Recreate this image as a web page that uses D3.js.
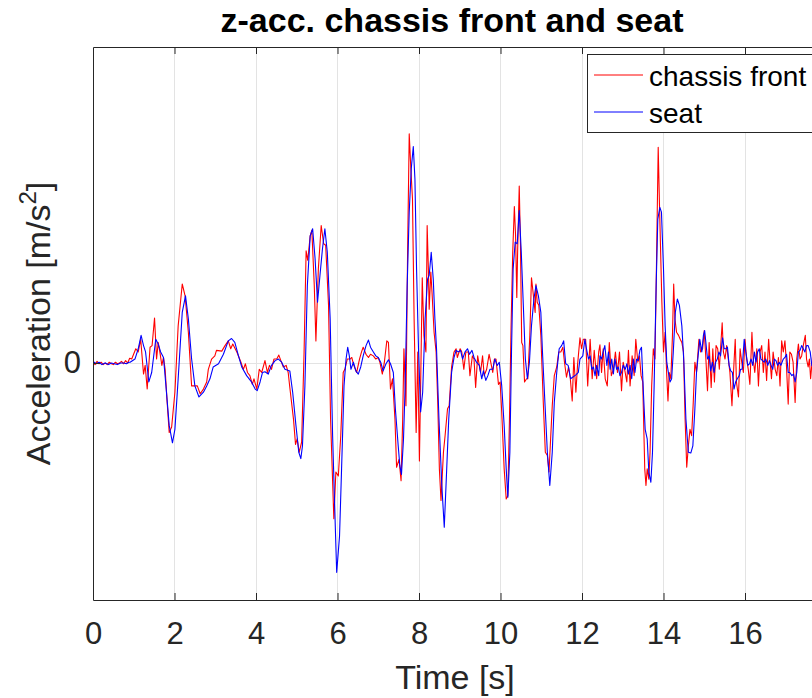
<!DOCTYPE html>
<html>
<head>
<meta charset="utf-8">
<script src="https://cdn.jsdelivr.net/npm/d3@7"></script>
<style>
  html, body { margin: 0; padding: 0; background: #fff; }
  svg { display: block; font-family: "Liberation Sans", Arial, Helvetica, sans-serif; }
</style>
</head>
<body>
<svg id="chart" width="812" height="698"></svg>
<script>
// z-acceleration samples [time s, acceleration m/s^2]
const chassisFront = [
  [0,0.01],[0.05,-0.02],[0.1,0.02],[0.15,-0.01],[0.2,0.01],[0.25,-0.02],[0.3,0],[0.35,-0.02],[0.4,0.01],[0.45,-0.01],
  [0.5,-0.02],[0.55,0.01],[0.6,-0.01],[0.65,0],[0.7,0.02],[0.75,-0.01],[0.8,0.03],[0.85,0],[0.9,0.06],
  [0.95,0.05],[1.05,0.18],[1.11,0.14],[1.17,0.30],[1.24,-0.14],[1.28,-0.03],[1.33,-0.33],[1.40,0.20],[1.45,0.22],
  [1.51,0.57],[1.56,0.05],[1.60,0.26],[1.64,0.14],[1.69,-0.03],[1.73,0.07],[1.77,-0.08],[1.82,-0.50],[1.87,-0.88],
  [1.93,-0.81],[2.01,-0.37],[2.09,0.47],[2.19,1.00],[2.26,0.85],[2.34,0.39],[2.42,-0.29],[2.50,-0.29],[2.56,-0.29],
  [2.63,-0.39],[2.71,-0.33],[2.79,-0.24],[2.83,-0.08],[2.91,0.05],[2.99,0.09],
  [3.03,0.16],[3.16,0.15],[3.24,0.22],[3.32,0.28],[3.38,0.18],[3.43,0.24],[3.53,0.14],[3.63,0.01],[3.69,-0.08],
  [3.74,-0.01],[3.79,-0.12],[3.85,-0.16],[3.91,-0.27],[3.95,-0.20],[4.02,-0.33],[4.08,-0.08],[4.14,-0.12],[4.22,0.03],
  [4.28,-0.12],[4.33,-0.03],[4.38,-0.08],[4.44,0.05],[4.51,0.05],[4.56,0.10],[4.61,0.03],[4.67,-0.05],[4.74,-0.03],
  [4.79,-0.12],[4.83,-0.31],[4.92,-0.71],[4.97,-1.03],[5.01,-0.96],[5.06,-1.13],[5.12,-1.00],[5.18,0.14],[5.23,1.42],
  [5.27,1.30],[5.33,1.61],[5.37,1.68],[5.43,0.98],[5.47,0.28],[5.53,1.19],[5.60,1.74],[5.66,1.51],[5.71,1.49],
  [5.78,0.73],[5.83,-0.71],[5.91,-1.97],
  [5.96,-1.38],[6.02,-1.43],[6.08,-0.92],[6.14,-0.12],[6.18,-0.08],[6.24,0.05],[6.31,0.05],[6.35,0.07],[6.40,-0.03],
  [6.47,-0.12],[6.54,0.05],[6.59,0.14],[6.63,0.20],[6.70,0.11],[6.76,0.07],[6.81,0.11],[6.88,0.09],[6.94,0.05],
  [7.00,0.07],[7.04,0.01],[7.10,-0.14],[7.15,0.01],[7.21,0.28],[7.25,0.26],[7.30,-0.33],[7.35,-0.20],[7.41,-0.71],
  [7.45,-1.32],[7.51,-1.22],[7.56,-1.49],[7.60,-0.71],[7.63,0.18],[7.68,-0.54],[7.72,1.40],[7.76,2.90],[7.80,2.46],
  [7.84,2.08],[7.88,0.56],[7.93,-0.88],[7.97,0.14],[8.01,-1.24],[8.04,-0.29],[8.08,1.08],[8.12,0.35],[8.17,0.14],
  [8.20,1.74],[8.23,1.19],[8.25,0.68],[8.29,1.15],[8.32,0.89],[8.37,0.39],[8.42,0.14],[8.46,-0.50],[8.50,-1.34],
  [8.54,-1.74],[8.60,-1.13],[8.64,-0.92],[8.70,-0.58],[8.74,-0.54],[8.80,-0.05],
  [8.86,0.14],[8.91,0.18],[8.94,0.07],[9.01,0.18],[9.05,0.14],[9.10,-0.08],[9.15,0.14],[9.21,0.14],[9.25,-0.16],
  [9.31,0.09],[9.35,0.05],[9.39,-0.31],[9.44,0.09],[9.48,-0.03],[9.51,-0.12],[9.56,0.09],[9.60,-0.16],[9.66,-0.08],
  [9.72,0.11],[9.76,0.01],[9.81,-0.12],[9.85,0.05],[9.89,0.05],[9.95,-0.27],[9.99,-0.24],[10.03,-0.62],[10.09,-1.34],
  [10.14,-1.72],[10.18,-1.68],[10.22,-0.71],[10.26,0.47],[10.30,1.40],[10.34,1.98],[10.37,1.61],[10.40,0.83],
  [10.42,1.40],[10.46,2.24],[10.49,1.49],[10.52,0.26],[10.55,0.22],[10.59,-0.24],[10.64,-0.20],[10.67,-0.20],
  [10.72,0.35],[10.76,1.08],[10.80,0.89],[10.85,0.64],[10.87,1.00],[10.90,0.77],[10.94,0.73],[10.99,0.35],
  [11.05,-0.50],[11.10,-1.13],[11.15,-1.17],[11.19,-1.38],[11.23,-0.96],[11.27,-0.54],[11.32,-0.16],[11.38,-0.05],
  [11.43,0.14],[11.48,0.14],[11.53,0.20],[11.57,0.01],[11.62,-0.18],[11.67,-0.05],[11.71,-0.18],[11.76,-0.48],[11.80,0.07],
  [11.85,-0.37],[11.89,-0.03],[11.95,0.32],[11.99,0.18],[12.03,0.30],[12.09,0.30],[12.14,-0.29],[12.20,0.30],
  [12.25,-0.20],[12.30,0.16],[12.36,-0.20],[12.41,0.14],[12.44,0.23],[12.48,-0.12],[12.52,0.18],[12.57,-0.20],
  [12.62,-0.29],[12.67,0.26],[12.72,-0.16],[12.77,-0.08],[12.82,0.14],[12.87,-0.12],[12.92,0.14],[12.97,-0.35],
  [13.01,0.01],[13.06,-0.12],[13.10,-0.24],[13.14,0.16],[13.18,-0.29],[13.23,0.09],[13.28,-0.16],[13.32,0.30],
  [13.37,0.01],[13.41,0.09],[13.45,-0.16],[13.49,-0.24],[13.54,-1.34],[13.57,-1.55],[13.60,-1.34],[13.64,-1.47],
  [13.67,-1.13],[13.71,-0.29],[13.75,0.18],[13.79,0.05],[13.82,0.98],[13.87,2.73],[13.90,2.03],[13.93,1.40],
  [13.96,0.77],[14.00,0.14],[14.04,0.39],[14.08,-0.16],[14.11,-0.48],[14.14,-0.12],[14.18,-0.20],[14.22,0.35],
  [14.25,1.00],[14.28,0.56],[14.32,0.39],[14.37,0.35],[14.41,0.30],[14.45,0.26],[14.49,0.14],[14.53,-0.71],
  [14.57,-1.32],[14.61,-1.05],[14.65,-0.84],[14.69,-0.92],[14.73,-0.50],[14.77,0.01],
  [14.81,-0.12],[14.87,0.30],[14.91,0.14],[14.96,0.18],[15.00,0.41],[15.04,0.05],[15.08,-0.35],[15.12,0.26],
  [15.17,-0.31],[15.21,0.18],[15.25,-0.24],[15.29,0.22],[15.33,0.18],[15.37,-0.08],[15.40,0.18],[15.44,0.51],
  [15.47,0.14],[15.51,0.05],[15.55,0.22],[15.59,0.05],[15.63,-0.12],[15.68,-0.54],[15.71,-0.20],[15.76,0.30],
  [15.79,-0.24],[15.84,-0.43],[15.88,0.18],[15.92,0.01],[15.96,-0.12],[16.00,0.30],[16.04,0.05],[16.08,-0.08],
  [16.12,-0.27],[16.17,0.39],[16.20,0.05],[16.24,-0.12],[16.29,0.18],[16.33,-0.29],[16.37,0.14],[16.41,0.22],
  [16.45,-0.12],[16.49,0.14],[16.53,-0.22],[16.58,0.30],[16.61,0.05],[16.65,-0.20],[16.69,0.14],[16.74,-0.08],
  [16.78,-0.16],[16.82,0.07],[16.86,-0.29],[16.90,0.28],[16.94,0.14],[16.98,0.28],[17.01,0.05],[17.06,-0.52],
  [17.10,0.14],[17.14,0.11],[17.18,0.01],[17.23,-0.50],[17.27,0.05],[17.31,0.24],[17.35,0.05],[17.39,0.09],
  [17.43,0.22],[17.48,0.35],[17.51,0.05],[17.55,-0.05],[17.58,0.05],[17.61,-0.20],[17.66,0.10],[17.72,-0.15],[17.78,0.12]
];

const seat = [
  [0,0.02],[0.08,-0.01],[0.15,0.01],[0.22,-0.02],[0.3,0],[0.38,-0.02],[0.45,0],[0.52,-0.01],[0.6,-0.02],[0.68,0],
  [0.75,0],[0.82,-0.01],[0.88,0.01],
  [0.91,0.01],[1.03,0.05],[1.11,0.18],[1.18,0.35],[1.24,0.22],[1.29,0.14],[1.37,-0.24],[1.44,-0.12],[1.54,0.30],
  [1.60,0.24],[1.66,0.14],[1.73,0.07],[1.79,-0.29],[1.87,-0.79],[1.95,-1.01],[2.01,-0.84],[2.09,-0.20],[2.19,0.64],
  [2.27,0.85],[2.34,0.56],[2.42,0.05],[2.50,-0.29],[2.60,-0.43],[2.71,-0.37],[2.79,-0.29],[2.87,-0.20],[2.95,-0.05],
  [3.08,-0.01],[3.20,0.11],[3.32,0.28],[3.40,0.31],[3.48,0.26],[3.57,0.09],[3.65,-0.05],[3.77,-0.16],[3.89,-0.24],
  [3.98,-0.33],[4.03,-0.35],[4.10,-0.24],[4.16,-0.12],[4.22,-0.11],[4.30,-0.14],[4.38,-0.03],[4.47,0.03],[4.55,0.05],
  [4.63,0.01],[4.71,-0.08],[4.83,-0.10],[4.90,-0.37],[4.98,-0.79],[5.05,-1.13],[5.10,-1.21],[5.14,-1.05],[5.20,-0.29],
  [5.26,0.98],[5.33,1.61],[5.39,1.70],[5.45,1.32],[5.51,0.77],[5.57,1.11],[5.63,1.44],[5.69,1.70],[5.75,1.40],
  [5.82,0.56],[5.88,-0.92],[5.94,-1.97],
  [5.98,-2.65],[6.05,-2.19],[6.10,-1.34],[6.16,-0.29],[6.21,0.05],[6.25,0.20],[6.29,0.09],[6.33,-0.08],[6.39,0.01],
  [6.45,-0.10],[6.51,-0.14],[6.57,-0.05],[6.63,0.09],[6.70,0.22],[6.76,0.29],[6.81,0.20],[6.88,0.14],[6.94,0.09],
  [7.00,0.07],[7.06,0.01],[7.12,-0.10],[7.19,-0.01],[7.25,0.04],[7.30,-0.01],[7.37,-0.12],[7.42,-0.58],[7.49,-1.05],
  [7.53,-1.30],[7.57,-1.41],[7.62,-0.96],[7.66,-0.29],[7.71,0.98],[7.76,1.91],[7.81,2.46],[7.86,2.74],[7.90,2.33],
  [7.94,1.19],[7.99,0.14],[8.04,-0.62],[8.09,-0.37],[8.15,0.56],[8.21,1.06],[8.25,1.11],[8.30,1.40],[8.35,1.06],
  [8.39,0.56],[8.43,0.18],[8.49,-0.71],[8.56,-1.55],[8.62,-2.08],[8.68,-1.34],[8.73,-0.71],[8.80,-0.12],
  [8.86,0.07],[8.91,0.16],[8.97,0.14],[9.02,0.16],[9.07,0.05],[9.13,0.14],[9.19,0.18],[9.24,0.11],[9.30,0.16],
  [9.35,0.07],[9.41,0.01],[9.48,-0.03],[9.54,-0.20],[9.58,-0.10],[9.64,-0.22],[9.69,-0.16],[9.74,-0.08],[9.81,-0.08],
  [9.86,0.05],[9.92,-0.03],[9.97,0.01],[10.03,-0.29],[10.09,-0.79],[10.14,-1.34],[10.18,-1.70],[10.23,-1.13],
  [10.27,0.14],[10.31,1.19],[10.36,1.53],[10.41,1.51],[10.46,1.93],[10.51,1.40],[10.56,0.73],[10.61,0.05],
  [10.66,-0.20],[10.71,0.01],[10.76,0.47],[10.82,0.81],[10.87,0.98],[10.93,0.85],[10.99,0.64],[11.03,0.14],
  [11.09,-0.50],[11.15,-1.13],[11.21,-1.55],[11.27,-1.13],[11.32,-0.50],[11.38,-0.12],[11.44,0.18],[11.50,0.22],
  [11.55,0.28],[11.60,-0.01],[11.66,-0.03],[11.72,-0.20],[11.77,-0.18],
  [11.85,-0.15],[11.91,-0.12],[11.95,0.05],[12.02,0.09],[12.07,0.30],[12.11,0.18],[12.16,0.05],[12.20,0.09],
  [12.24,-0.08],[12.28,-0.05],[12.32,-0.16],[12.36,-0.03],[12.41,-0.16],[12.44,0.09],[12.48,0.05],[12.52,0.14],
  [12.56,0.22],[12.61,-0.03],[12.65,0.14],[12.69,-0.08],[12.73,0.05],[12.77,-0.14],[12.81,0.05],[12.85,-0.08],
  [12.89,-0.05],[12.93,-0.16],[12.97,-0.12],[13.01,-0.03],[13.06,-0.08],[13.10,-0.01],[13.14,-0.14],[13.18,-0.03],
  [13.22,-0.20],[13.26,0.05],[13.30,-0.12],[13.34,0.05],[13.38,0.03],[13.42,0.16],[13.46,0.20],[13.51,-0.41],
  [13.55,-0.84],[13.60,-0.96],[13.64,-1.38],[13.69,-1.51],[13.73,-1.13],[13.77,-0.29],[13.82,0.98],[13.86,1.82],
  [13.91,1.97],[13.95,1.91],[14.00,1.19],[14.04,0.47],[14.08,0.01],[14.12,-0.12],[14.16,-0.24],[14.20,-0.20],
  [14.24,0.14],[14.29,0.64],[14.34,0.81],[14.39,0.73],[14.45,0.47],[14.50,0.01],[14.55,-0.71],[14.61,-1.13],
  [14.67,-1.14],[14.72,-1.05],[14.77,-0.58],
  [14.81,-0.12],[14.85,0.09],[14.89,0.30],[14.94,0.14],[14.98,0.35],[15.01,0.41],[15.04,0.26],[15.08,0.05],
  [15.12,0.09],[15.16,-0.10],[15.20,0.01],[15.24,-0.12],[15.28,0.01],[15.32,0.05],[15.36,0.14],[15.40,0.09],
  [15.45,0.32],[15.49,0.18],[15.53,0.18],[15.57,0.20],[15.61,-0.03],[15.65,-0.10],[15.69,-0.12],[15.73,-0.33],
  [15.77,-0.24],[15.81,-0.20],[15.86,-0.16],[15.89,-0.08],[15.93,-0.08],[15.98,0.30],[16.02,0.14],[16.07,-0.03],
  [16.11,-0.01],[16.15,0.05],[16.19,-0.03],[16.23,0.14],[16.27,0.01],[16.31,0.14],[16.35,0.18],[16.39,0.05],
  [16.43,0.03],[16.47,0.01],[16.51,0.05],[16.56,-0.03],[16.60,0.03],[16.64,-0.03],[16.68,-0.08],[16.72,0.05],
  [16.76,0.03],[16.80,-0.03],[16.84,0.01],[16.88,-0.03],[16.94,0.05],[16.98,0.07],[17.02,0.11],[17.06,-0.12],
  [17.10,-0.12],[17.15,-0.16],[17.19,-0.14],[17.23,-0.24],[17.27,-0.12],[17.31,0.14],[17.35,0.16],[17.39,0.22],
  [17.43,0.18],[17.47,0.14],[17.51,0.22],[17.55,0.22],[17.60,0.14],[17.64,-0.03],[17.70,-0.08],[17.80,0.02]
];

// labelled time ticks, plus the full set of grid positions along the time axis
const timeTicks = [0, 2, 4, 6, 8, 10, 12, 14, 16];
const gridTicks = [2, 4, 6, 8, 10, 12, 14, 16, 18];
const accTicks = [0];
const seriesNames = ["chassis front", "seat"];
const seriesColors = ["#ff0000", "#0000ff"];

const svg = d3.select("#chart");
const plotLeft = 93, plotTop = 47, plotBottom = 600, plotRight = 908;
const axisColor = "#262626";
const font = "'Liberation Sans', Arial, sans-serif";

const x = d3.scaleLinear().domain([0, 20]).range([plotLeft, plotRight]);
const y = d3.scaleLinear().domain([-3, 4]).range([plotBottom, plotTop]);

svg.append("defs").append("clipPath").attr("id", "plotArea")
  .append("rect").attr("x", plotLeft).attr("y", plotTop)
  .attr("width", plotRight - plotLeft).attr("height", plotBottom - plotTop);

// grid
const grid = svg.append("g");
grid.selectAll("line.vx").data(gridTicks).join("line")
  .attr("x1", d => x(d)).attr("x2", d => x(d)).attr("y1", plotTop).attr("y2", plotBottom)
  .attr("stroke", "#e3e3e3").attr("stroke-width", 1).attr("shape-rendering", "crispEdges");
grid.selectAll("line.hy").data(accTicks).join("line")
  .attr("x1", plotLeft).attr("x2", plotRight).attr("y1", d => y(d)).attr("y2", d => y(d))
  .attr("stroke", "#e3e3e3").attr("stroke-width", 1).attr("shape-rendering", "crispEdges");

// series
const line = d3.line().x(d => x(d[0])).y(d => y(d[1]));
const plot = svg.append("g").attr("clip-path", "url(#plotArea)");
[chassisFront, seat].forEach((data, i) => {
  plot.append("path").datum(data)
    .attr("fill", "none").attr("stroke", seriesColors[i]).attr("stroke-width", 1.1)
    .attr("stroke-linejoin", "round").attr("d", line);
});

// axes (ticks pointing inward, box on top)
const xAxisB = d3.axisBottom(x).tickValues(timeTicks).tickSizeInner(-7).tickSizeOuter(0).tickPadding(22);
const gx = svg.append("g").attr("transform", `translate(0,${plotBottom})`).call(xAxisB);
gx.select(".domain").attr("stroke", axisColor);
gx.selectAll(".tick line").attr("stroke", axisColor);
gx.selectAll(".tick text").attr("fill", axisColor).style("font-size", "31px").style("font-family", font);

const xAxisT = d3.axisTop(x).tickValues(gridTicks).tickSizeInner(-7).tickSizeOuter(0).tickFormat("");
const gxt = svg.append("g").attr("transform", `translate(0,${plotTop})`).call(xAxisT);
gxt.select(".domain").attr("stroke", axisColor);
gxt.selectAll(".tick line").attr("stroke", axisColor);

const yAxis = d3.axisLeft(y).tickValues(accTicks).tickFormat(d3.format("d"))
  .tickSizeInner(-7).tickSizeOuter(0).tickPadding(12);
const gy = svg.append("g").attr("transform", `translate(${plotLeft},0)`).call(yAxis);
gy.select(".domain").attr("stroke", axisColor);
gy.selectAll(".tick line").attr("stroke", axisColor);
gy.selectAll(".tick text").attr("fill", axisColor).style("font-size", "31px").style("font-family", font);

// title and axis labels
svg.append("text").attr("x", 452).attr("y", 32).attr("text-anchor", "middle")
  .attr("font-weight", "bold").attr("font-size", 34).attr("fill", "#000")
  .text("z-acc. chassis front and seat");

svg.append("text").attr("x", 455).attr("y", 689).attr("text-anchor", "middle")
  .attr("font-size", 34).attr("fill", axisColor).text("Time [s]");

const yl = svg.append("text").attr("transform", `translate(50,${(plotTop + plotBottom) / 2}) rotate(-90)`)
  .attr("text-anchor", "middle").attr("font-size", 34).attr("fill", axisColor);
yl.append("tspan").text("Acceleration [m/s");
yl.append("tspan").attr("font-size", 24).attr("dy", -14).text("2");
yl.append("tspan").attr("dy", 14).text("]");

// legend
const lg = svg.append("g");
lg.append("rect").attr("x", 587.5).attr("y", 54.5).attr("width", 300).attr("height", 78)
  .attr("fill", "#fff").attr("stroke", axisColor).attr("stroke-width", 1);
seriesNames.forEach((name, i) => {
  const cy = 75 + i * 37;
  lg.append("line").attr("x1", 594).attr("x2", 643).attr("y1", cy).attr("y2", cy)
    .attr("stroke", seriesColors[i]).attr("stroke-width", 1);
  lg.append("text").attr("x", 649).attr("y", cy + 11).attr("font-size", 28).attr("fill", "#000").text(name);
});
</script>
</body>
</html>
